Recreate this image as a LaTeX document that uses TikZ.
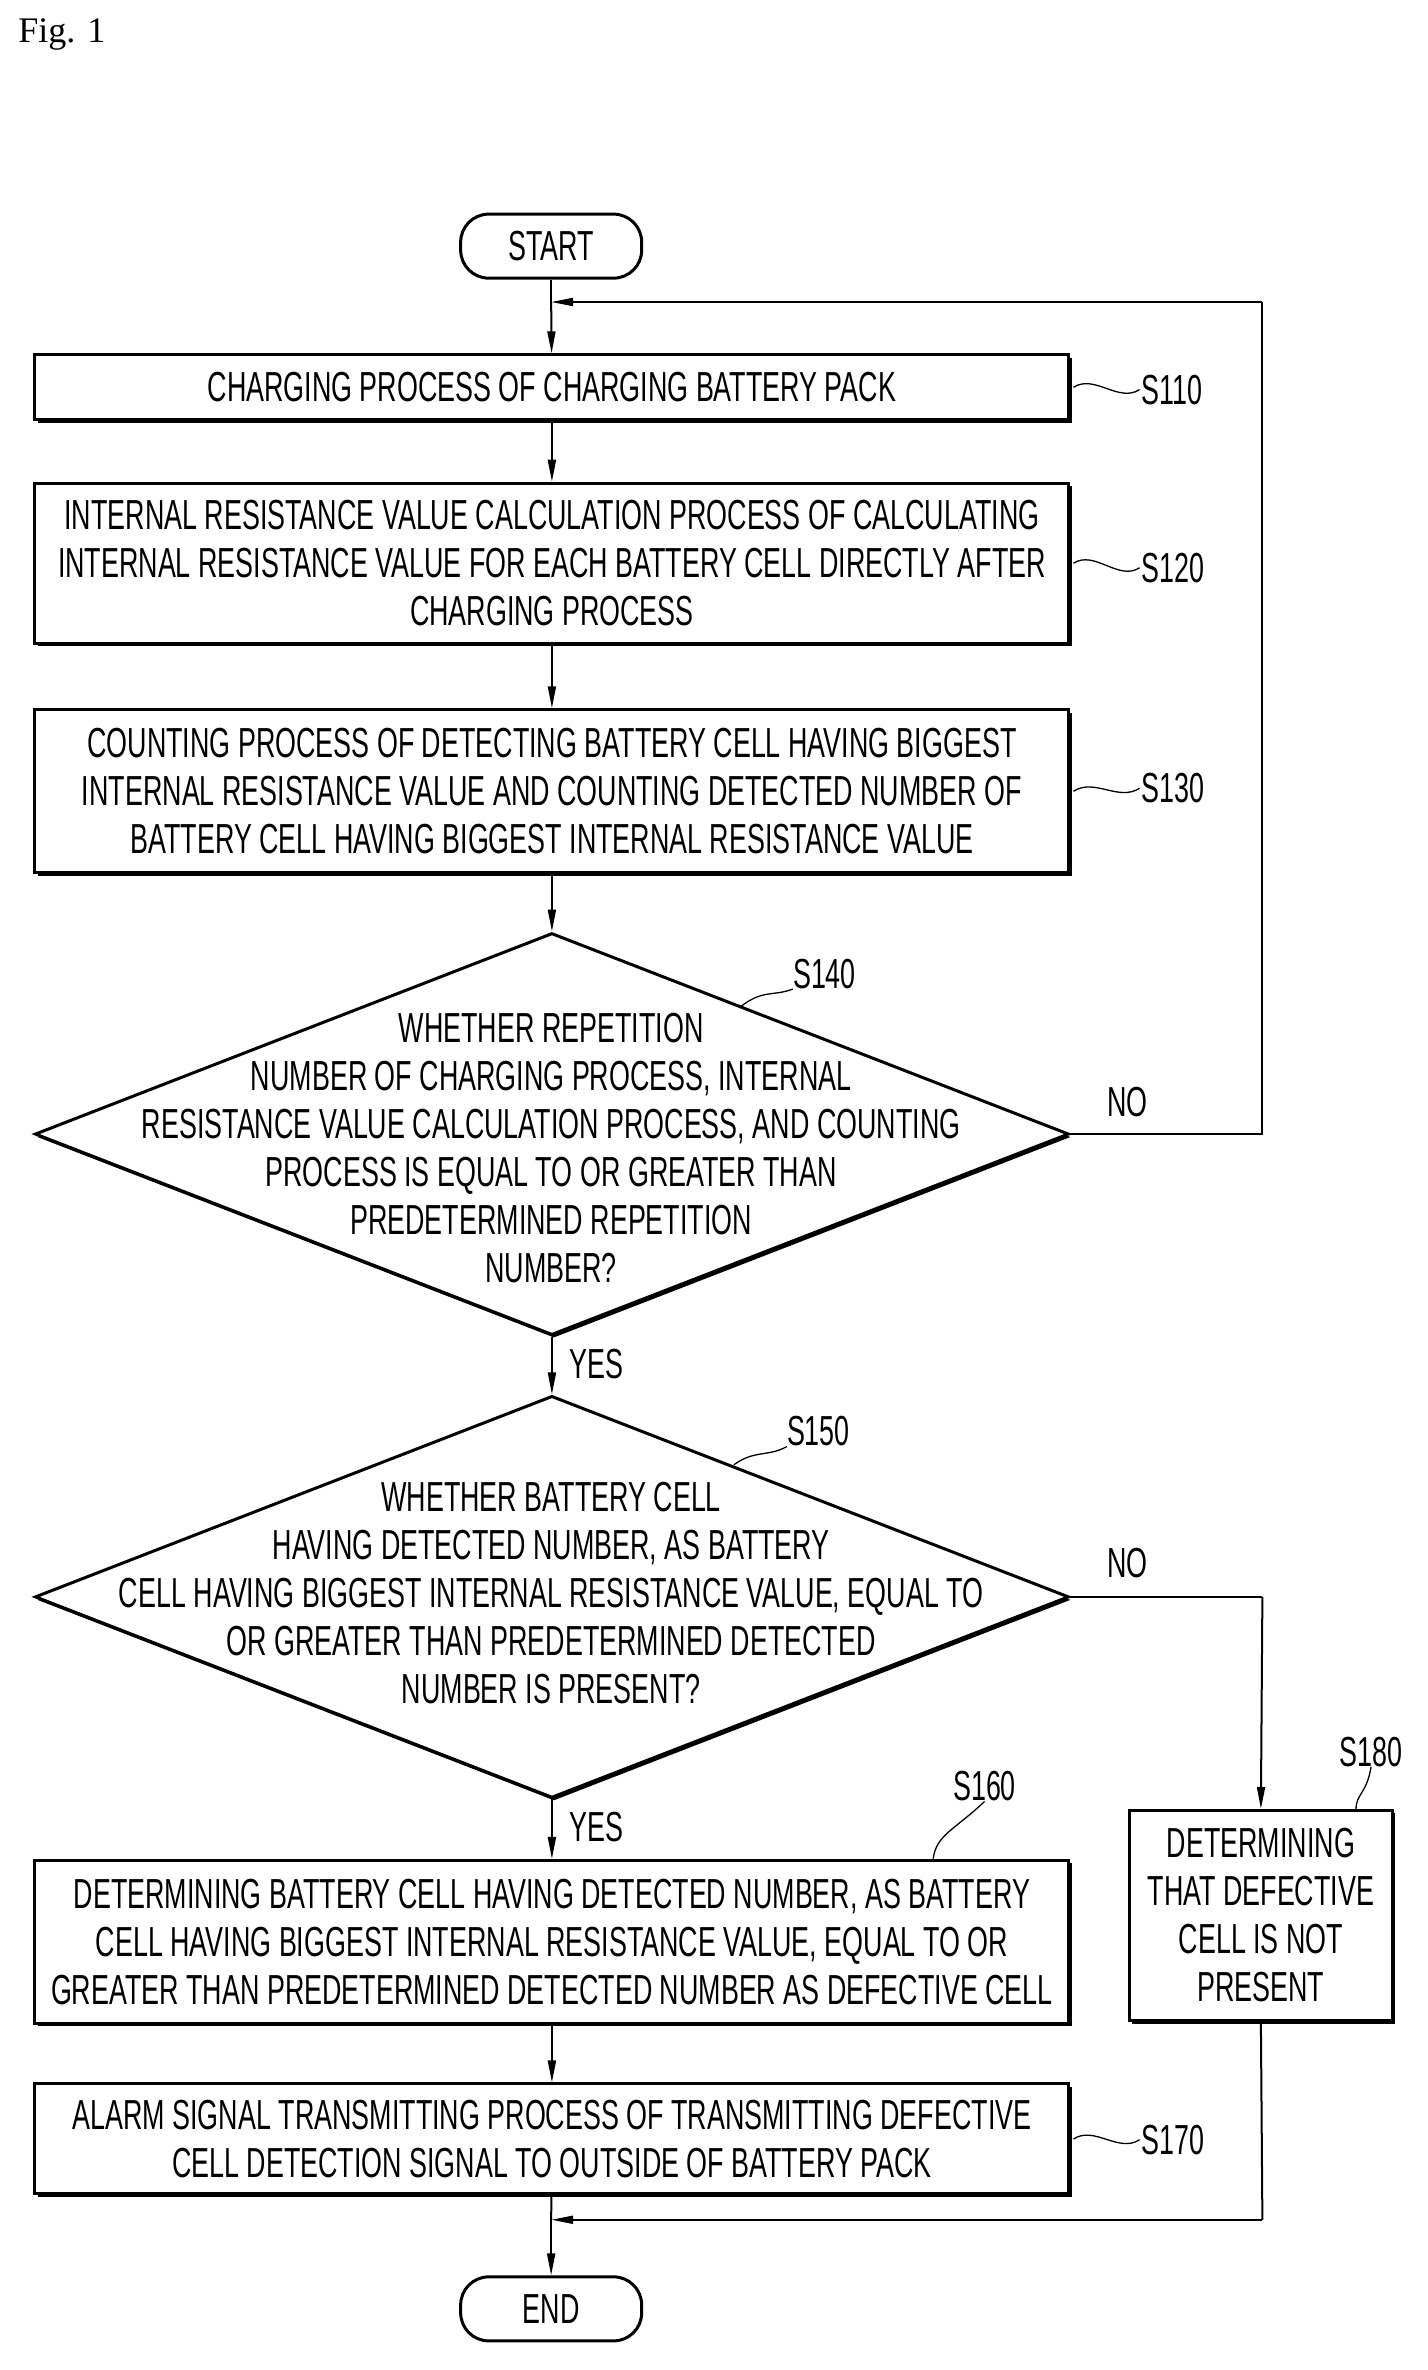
\documentclass[tikz,border=0pt]{standalone}
\usepackage{fontspec}
\setmainfont{Liberation Sans}[FakeStretch=0.64]
\newfontfamily\figfont{Liberation Serif}
\usetikzlibrary{arrows.meta,shapes.geometric,shadows}
\begin{document}
\begin{tikzpicture}[x=1.51pt,y=-1.51pt,
  txt/.style={font=\fontsize{42}{48}\selectfont,align=center,inner sep=0},
  box/.style={draw,line width=3pt,inner sep=0,fill=white,
    drop shadow={shadow xshift=3pt,shadow yshift=-3pt,opacity=1,fill=black}},
  term/.style={draw,line width=3pt,rounded corners=28pt,minimum width=181pt,minimum height=64pt,txt},
  dia/.style={draw,diamond,line width=3pt,inner sep=0,minimum width=1034pt,minimum height=402pt,fill=white,
    drop shadow={shadow xshift=2pt,shadow yshift=-3pt,opacity=1,fill=black}},
  lbl/.style={txt,anchor=west},
  con/.style={line width=2pt,-{Triangle[length=22pt,width=8pt]}},
  ln/.style={line width=2pt},
  sq/.style={line width=1.3pt}]
\useasboundingbox (0,0) rectangle (945.03,1569.5);
\node[font=\figfont\fontsize{36}{40}\selectfont,anchor=north west,inner sep=0] (fig) at (12,12) {Fig. 1};
\node[term] (start) at (365,163) {START};
\node[box,minimum width=1034pt,minimum height=65pt] (b110) at (365.5,256.5) {};
\node[txt] at (b110) {CHARGING PROCESS OF CHARGING BATTERY PACK};
\node[box,minimum width=1034pt,minimum height=160pt] (b120) at (365.5,373) {};
\node[txt] at (b120) {INTERNAL RESISTANCE VALUE CALCULATION PROCESS OF CALCULATING\\INTERNAL RESISTANCE VALUE FOR EACH BATTERY CELL DIRECTLY AFTER\\CHARGING PROCESS};
\node[box,minimum width=1034pt,minimum height=163pt] (b130) at (365.5,524) {};
\node[txt] at (b130) {COUNTING PROCESS OF DETECTING BATTERY CELL HAVING BIGGEST\\INTERNAL RESISTANCE VALUE AND COUNTING DETECTED NUMBER OF\\BATTERY CELL HAVING BIGGEST INTERNAL RESISTANCE VALUE};
\node[dia] (d140) at (365.5,751) {};
\node[txt] at (365,760) {WHETHER REPETITION\\NUMBER OF CHARGING PROCESS, INTERNAL\\RESISTANCE VALUE CALCULATION PROCESS, AND COUNTING\\PROCESS IS EQUAL TO OR GREATER THAN\\PREDETERMINED REPETITION\\NUMBER?};
\node[dia] (d150) at (365.5,1057.5) {};
\node[txt] at (365,1055) {WHETHER BATTERY CELL\\HAVING DETECTED NUMBER, AS BATTERY\\CELL HAVING BIGGEST INTERNAL RESISTANCE VALUE, EQUAL TO\\OR GREATER THAN PREDETERMINED DETECTED\\NUMBER IS PRESENT?};
\node[box,minimum width=1034pt,minimum height=163pt] (b160) at (365.5,1286) {};
\node[txt] at (b160) {DETERMINING BATTERY CELL HAVING DETECTED NUMBER, AS BATTERY\\CELL HAVING BIGGEST INTERNAL RESISTANCE VALUE, EQUAL TO OR\\GREATER THAN PREDETERMINED DETECTED NUMBER AS DEFECTIVE CELL};
\node[box,minimum width=1034pt,minimum height=110pt] (b170) at (365.5,1416.5) {};
\node[txt] at (b170) {ALARM SIGNAL TRANSMITTING PROCESS OF TRANSMITTING DEFECTIVE\\CELL DETECTION SIGNAL TO OUTSIDE OF BATTERY PACK};
\node[box,minimum width=263pt,minimum height=210pt] (b180) at (835,1268.5) {};
\node[txt] at (b180) {DETERMINING\\THAT DEFECTIVE\\CELL IS NOT\\PRESENT};
\node[term] (end) at (365,1529) {END};
% labels
\node[lbl] (l110) at (756,258) {S110};
\node[lbl] (l120) at (756,376) {S120};
\node[lbl] (l130) at (756,522) {S130};
\node[lbl] (l170) at (756,1417) {S170};
\node[txt] (l140) at (546,645) {S140};
\node[txt] (l150) at (542,948) {S150};
\node[txt] (l160) at (652,1183) {S160};
\node[txt] (l180) at (908,1160) {S180};
\node[lbl] (no1) at (733,730) {NO};
\node[lbl] (no2) at (733,1035) {NO};
\node[lbl] (yes1) at (377,903) {YES};
\node[lbl] (yes2) at (377,1210) {YES};
\foreach \b/\l in {b110/l110,b120/l120,b130/l130,b170/l170}
  \draw[sq] ([xshift=3pt]\b.east) .. controls +(14,-9) and +(-14,9) .. ([xshift=-2pt]\l.west);
\draw[sq] (490,667) .. controls (505,655) and (512,660) .. (l140.south west);
\draw[sq] (486,970) .. controls (500,960) and (508,965) .. (l150.south west);
\draw[sq] (618,1231) .. controls (620,1215) and (632,1212) .. (l160.south);
\draw[sq] (898,1198) .. controls (898,1188) and (905,1188) .. (l180.south);
% connectors
\coordinate (top) at (365,200);
\coordinate (tr) at (836,200);
\coordinate (r140) at (836,751);
\coordinate (r150) at (836,1057.5);
\coordinate (mr) at (836,1470);
\coordinate (mj) at (365,1470);
\draw[ln] (start) -- (top);
\draw[con] (top) -- (b110);
\draw[con] (b110) -- (b120);
\draw[con] (b120) -- (b130);
\draw[con] (b130) -- (d140.north);
\draw[con] (d140.south) -- (d150.north);
\draw[con] (d150.south) -- (b160);
\draw[con] (b160) -- (b170);
\draw[ln] (d140.east) -- (r140) -- (tr);
\draw[con] (tr) -- (top);
\draw[ln] (d150.east) -- (r150);
\draw[con] (r150) -- (b180.north);
\draw[ln] (b180.south) -- (mr);
\draw[con] (mr) -- (mj);
\draw[ln] (b170) -- (mj);
\draw[con] (mj) -- (end);
\end{tikzpicture}
\end{document}
